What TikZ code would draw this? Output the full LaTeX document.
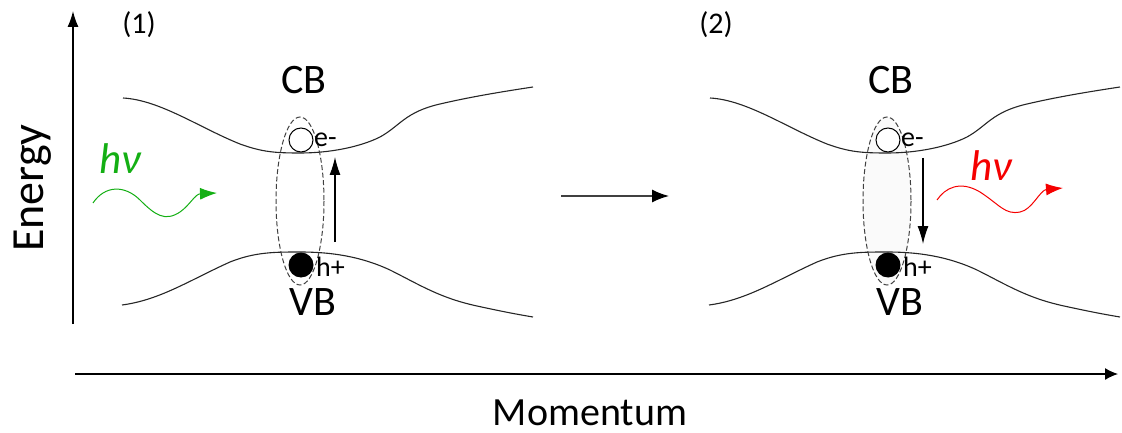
\documentclass[tikz,border=0pt]{standalone}
\usepackage{fontspec}
\setmainfont{Carlito}
\usetikzlibrary{arrows.meta}
\definecolor{gcol}{RGB}{20,175,20}
\definecolor{rcol}{RGB}{245,0,0}
\tikzset{
  band/.style={line width=1.1pt, black!85},
  axis/.style={line width=1.3pt, -{Latex[length=16pt,width=11pt]}},
  pair/.style={draw=black!75, dash pattern=on 5pt off 2.5pt, line width=1pt},
  trans/.style={line width=1.2pt, -{Latex[length=18pt,width=11pt]}},
  photon/.style={line width=1pt, -{Latex[length=17pt,width=12pt]}},
  big/.style={font=\fontsize{42}{44}\selectfont, inner sep=0pt},
  small/.style={font=\fontsize{28}{30}\selectfont, inner sep=0pt},
  hv/.style={font=\fontsize{43}{45}\selectfont\itshape, inner sep=0pt},
}
\begin{document}
\begin{tikzpicture}[x=1pt,y=-1pt]
\useasboundingbox (0,0) rectangle (1122,433);
% axes
\coordinate (ey0) at (73,324);
\coordinate (ey1) at (73,11);
\coordinate (mx0) at (75,374);
\coordinate (mx1) at (1118,374);
\draw[axis] (ey0) -- (ey1);
\draw[line width=1.3pt, -{Latex[length=13pt,width=12pt]}] (mx0) -- (mx1);
\node[anchor=base, rotate=90, font=\fontsize{46}{48}\selectfont, inner sep=0pt] (energy) at (43,188) {Energy};
\node[anchor=base, font=\fontsize{40}{42}\selectfont, inner sep=0pt] (mom) at (590,425) {Momentum};
% middle arrow
\coordinate (ma0) at (561,196);
\coordinate (ma1) at (669,196);
\draw[line width=1.4pt, black!75, -{Latex[length=17pt,width=13pt,black]}] (ma0) -- (ma1);

\foreach \dx/\lab/\lx in {0/1/139, 587/2/716}{
\begin{scope}[xshift=\dx]
  \node[font=\fontsize{30}{32}\selectfont, inner sep=0pt, anchor=base] (lab\lab) at (\lx-\dx,34) {(\lab)};
  \ifnum\lab=2
    \fill[black!2] (300,201) ellipse [x radius=24, y radius=84];
  \fi
  \draw[band] (123,98) .. controls (160,100) and (200,128) .. (240,144)
     .. controls (262,152) and (275,153) .. (300,153)
     .. controls (330,153) and (360,147) .. (380,137)
     .. controls (400,126) and (405,112) .. (440,104)
     .. controls (470,97) and (500,92) .. (533,87);
  \draw[band] (122,305) .. controls (160,300) and (190,280) .. (230,262)
     .. controls (255,252) and (275,252) .. (300,252)
     .. controls (330,252) and (360,256) .. (390,270)
     .. controls (420,285) and (440,298) .. (477,306)
     .. controls (500,311) and (515,314) .. (533,317);
  \draw[pair] (300,201) ellipse [x radius=24, y radius=84];
  \node[draw=black, fill=white, circle, line width=1pt, minimum size=24pt, inner sep=0pt] (el\lab) at (301,140) {};
  \node[fill=black, circle, minimum size=25pt, inner sep=0pt] (ho\lab) at (301,265) {};
  \node[small, anchor=west] (et\lab) at (314,140) {e-};
  \node[small, anchor=west] (ht\lab) at (316,267) {h+};
  \node[big, anchor=base] (cb\lab) at (304,94) {CB};
  \node[big, anchor=base] (vb\lab) at (313,315) {VB};
\end{scope}
}
% transitions
\coordinate (up0) at (335,242);
\coordinate (up1) at (335,157);
\draw[trans] (up0) -- (up1);
\coordinate (dn0) at (923,158);
\coordinate (dn1) at (923,244);
\draw[trans] (dn0) -- (dn1);
% photons
\node[hv, text=gcol, anchor=base] (hv1) at (120,173) {hν};
\coordinate (g0) at (93,203);
\coordinate (g1) at (217,193);
\draw[photon, gcol] (g0) .. controls (105,185) and (125,185) .. (140,200)
   .. controls (155,215) and (165,222) .. (180,212)
   .. controls (190,205) and (195,194) .. (g1);
\node[hv, text=rcol, anchor=base] (hv2) at (991,180) {hν};
\coordinate (r0) at (937,200);
\coordinate (r1) at (1063,188);
\draw[photon, rcol] (r0) .. controls (945,188) and (960,180) .. (980,192)
   .. controls (1000,205) and (1005,215) .. (1020,212)
   .. controls (1032,210) and (1040,190) .. (r1);
\end{tikzpicture}
\end{document}
